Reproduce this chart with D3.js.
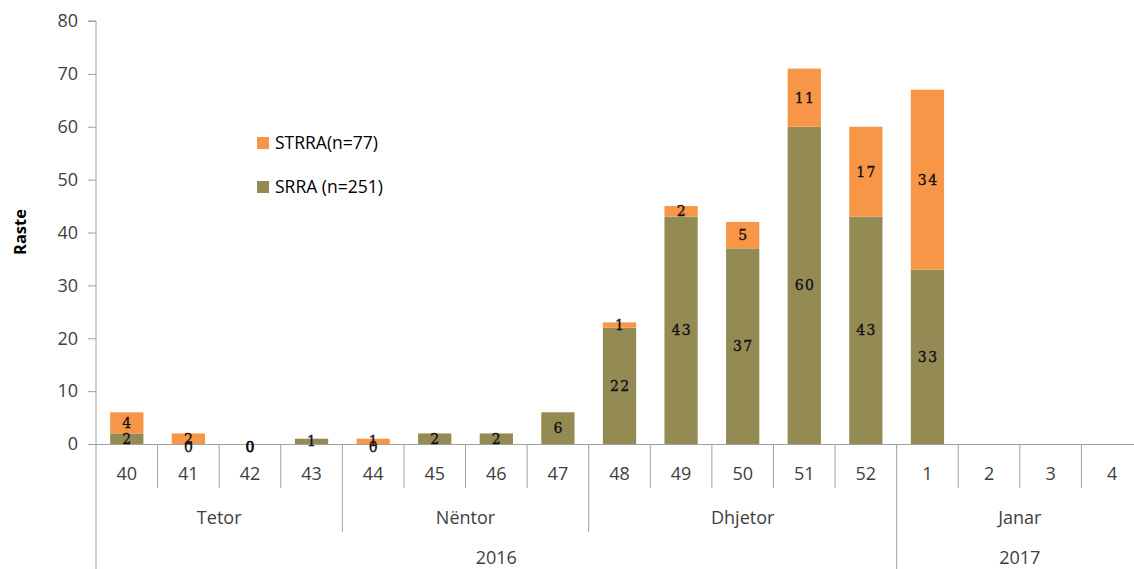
<!DOCTYPE html>
<html><head><meta charset="utf-8">
<script src="https://cdn.jsdelivr.net/npm/d3@7"></script>
<style>body{margin:0;background:#fff;}svg{display:block;}</style>
</head><body>
<svg id="c" width="1134" height="569"></svg>
<script>
const weeks = ["40","41","42","43","44","45","46","47","48","49","50","51","52","1","2","3","4"];
const srra  = [2,0,0,1,0,2,2,6,22,43,37,60,43,33,null,null,null];
const strra = [4,2,0,null,1,null,null,null,1,2,5,11,17,34,null,null,null];
const months = [{name:"Tetor",from:0,to:3},{name:"Nëntor",from:4,to:7},{name:"Dhjetor",from:8,to:12},{name:"Janar",from:13,to:16}];
const years = [{name:"2016",from:0,to:12},{name:"2017",from:13,to:16}];
const yTicks = [0,10,20,30,40,50,60,70,80];
const seriesNames = ["STRRA(n=77)","SRRA (n=251)"];
const colors = {strra:"#F79646", srra:"#948A54"};

(function(){
const svg = d3.select("#c");
const mL = 96, mR = 1143, mT = 21, mB = 444;
const x = d3.scaleBand().domain(d3.range(weeks.length)).range([mL,mR]).paddingInner(0.46).paddingOuter(0.23);
const step = x.step();
const y = d3.scaleLinear().domain([0,80]).range([mB,mT]);
const axisCol = "#A0A0A0", txtCol = "#404040";
const font = "'Open Sans', 'Liberation Sans', sans-serif";

// bars
weeks.forEach((w,i)=>{
  const s = srra[i]||0, t = strra[i]||0;
  if(s>0) svg.append("rect").attr("x",x(i)).attr("width",x.bandwidth()).attr("y",y(s)).attr("height",y(0)-y(s)).attr("fill",colors.srra);
  if(t>0) svg.append("rect").attr("x",x(i)).attr("width",x.bandwidth()).attr("y",y(s+t)).attr("height",y(s)-y(s+t)).attr("fill",colors.strra);
});

// y axis
const yAxis = d3.axisLeft(y).tickValues(yTicks).tickSize(8).tickPadding(10);
const gy = svg.append("g").attr("transform",`translate(${mL},0)`).call(yAxis);
gy.select(".domain").attr("stroke",axisCol).attr("d",`M-8,${mT}H0V${mB}`);
gy.selectAll(".tick line").attr("stroke",axisCol);
gy.selectAll("text").attr("font-family",font).attr("font-size",18).attr("fill",txtCol);
svg.append("line").attr("x1",mL).attr("x2",mL).attr("y1",mB).attr("y2",569).attr("stroke",axisCol);

// x baseline
svg.append("line").attr("x1",mL).attr("x2",mR).attr("y1",mB+0.5).attr("y2",mB+0.5).attr("stroke",axisCol);

for(let i=1;i<weeks.length;i++){
  const bx = mL + i*step;
  const isMonth = months.some(m=>m.from===i);
  const isYear = years.some(yy=>yy.from===i);
  svg.append("line").attr("x1",bx).attr("x2",bx).attr("y1",mB).attr("y2",isYear?569:(isMonth?532:488)).attr("stroke",axisCol);
}
weeks.forEach((w,i)=>{
  svg.append("text").attr("x",x(i)+x.bandwidth()/2).attr("y",480).attr("text-anchor","middle")
    .attr("font-family",font).attr("font-size",18).attr("fill",txtCol).text(w);
});
months.forEach(m=>{
  const cx = mL + (m.from + m.to + 1)/2*step;
  svg.append("text").attr("x",cx).attr("y",524).attr("text-anchor","middle")
    .attr("font-family",font).attr("font-size",18).attr("fill",txtCol).text(m.name);
});
years.forEach(yy=>{
  const cx = mL + (yy.from + yy.to + 1)/2*step;
  svg.append("text").attr("x",cx).attr("y",564).attr("text-anchor","middle")
    .attr("font-family",font).attr("font-size",18).attr("fill",txtCol).text(yy.name);
});

// data labels
const lblFont = "'DejaVu Serif', 'Liberation Serif', serif";
function lbl(cx, cy, v){
  svg.append("text").attr("x",cx+0.7).attr("y",cy).attr("dy","0.35em").attr("text-anchor","middle")
    .attr("font-family",lblFont).attr("font-size",14).attr("letter-spacing",1.4)
    .attr("fill","#111").attr("stroke","#111").attr("stroke-width",0.35).text(v);
}
weeks.forEach((w,i)=>{
  const s = srra[i], t = strra[i];
  const cx = x(i)+x.bandwidth()/2;
  if(s!==null) lbl(cx, (y(0)+y(s))/2+(s===0?3:0), s);
  if(t!==null){
    const b = s||0;
    lbl(cx, (y(b)+y(b+t))/2+(t===0?3:0), t);
  }
});

// y title
svg.append("text").attr("transform","translate(26,232) rotate(-90)").attr("text-anchor","middle")
  .attr("font-family",font).attr("font-weight","bold").attr("font-size",16.5).attr("fill","#000").text("Raste");

// legend
const leg = [{n:seriesNames[0],c:colors.strra,y:143},{n:seriesNames[1],c:colors.srra,y:187}];
leg.forEach(l=>{
  svg.append("rect").attr("x",257).attr("y",l.y-6).attr("width",12).attr("height",12).attr("fill",l.c);
  svg.append("text").attr("x",275).attr("y",l.y).attr("dy","0.35em").attr("font-family",font).attr("font-size",17.5).attr("fill","#000").text(l.n);
});
})();
</script>
</body></html>
